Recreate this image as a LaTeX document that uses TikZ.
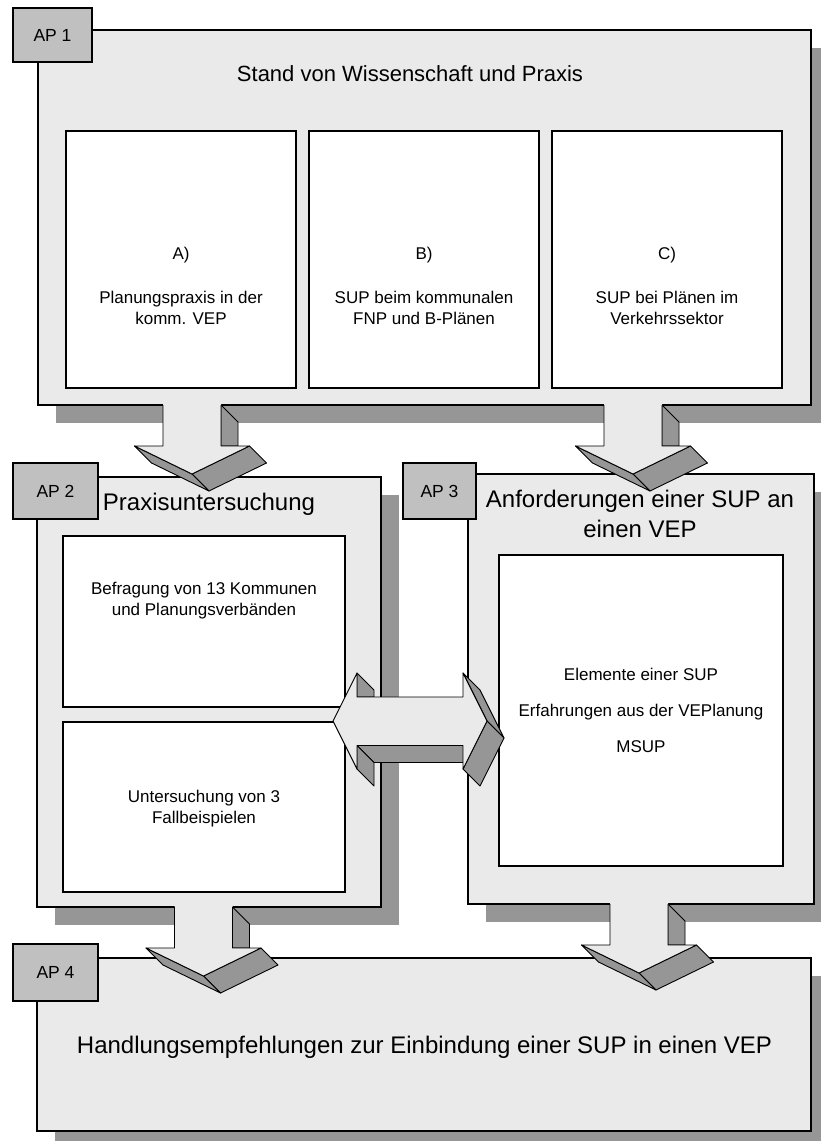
\documentclass[tikz,border=0pt]{standalone}
\usepackage{fontspec}
\setmainfont{Liberation Sans}
\definecolor{panelgray}{HTML}{EAEAEA}
\definecolor{tabgray}{HTML}{C0C0C0}
\definecolor{depthgray}{HTML}{969696}

% panel with its drop shadow: name, x1, y1, x2, y2
\newcommand\shadedpanel[5]{%
  \fill[depthgray] ({(#2)+18},{(#3)+18}) rectangle ({(#4)+18},{(#5)+18});
  \node[panel, minimum width={(#4)-(#2)}, minimum height={(#5)-(#3)}]
    (#1) at ({((#2)+(#4))/2},{((#3)+(#5))/2}) {};}
% plain box: name, x1, y1, x2, y2, style, text
\newcommand\boxat[7]{%
  \node[#6, minimum width={(#4)-(#2)}, minimum height={(#5)-(#3)}]
    (#1) at ({((#2)+(#4))/2},{((#3)+(#5))/2}) {#7};}

\tikzset{
  panel/.style={draw=black, fill=panelgray, line width=1.1pt, inner sep=0pt},
  inbox/.style={draw=black, fill=white, line width=1.1pt, inner sep=0pt},
  tabbox/.style={draw=black, fill=tabgray, line width=1.1pt, inner sep=0pt,
    font=\fontsize{17.5}{20}\selectfont},
  side/.style={draw=black, fill=depthgray, line width=0.9pt, line join=round},
  face/.style={fill=panelgray},
  edge/.style={draw=black, line width=0.9pt, line join=round},
  heading/.style={anchor=base, font=\fontsize{24}{28}\selectfont},
  body/.style={anchor=base, font=\fontsize{17}{20}\selectfont},
  % 3D block arrow pointing down, origin at the top centre of the shaft
  pics/downarrow/.style={code={
    \filldraw[side] (29,0) -- (46,17) -- (46,41) -- (29,41) -- cycle;
    \filldraw[side] (57.5,41) -- (74.5,58) -- (17,86) -- (0,69) -- cycle;
    \filldraw[side] (-57.5,41) -- (-40.5,58) -- (17,86) -- (0,69) -- cycle;
    \fill[face] (-29,-3) -- (-29,41) -- (-57.5,41) -- (0,69) -- (57.5,41)
      -- (29,41) -- (29,-3) -- cycle;
    \draw[edge] (-29,0) -- (-29,41) -- (-57.5,41) -- (0,69) -- (57.5,41)
      -- (29,41) -- (29,0);
  }},
  % 3D double-headed block arrow, origin at its centre
  pics/twinarrow/.style={code={
    \filldraw[side] (-53,24.5) -- (-36,41.5) -- (70,41.5) -- (53,24.5) -- cycle;
    \filldraw[side] (-53,-48) -- (-36,-31) -- (-36,-24) -- (-53,-24) -- cycle;
    \filldraw[side] (-53,24.5) -- (-36,41.5) -- (-36,65) -- (-53,48) -- cycle;
    \filldraw[side] (53,-48) -- (70,-31) -- (94,17) -- (77,0) -- cycle;
    \filldraw[side] (77,0) -- (94,17) -- (70,65) -- (53,48) -- cycle;
    \filldraw[face, edge] (-77,0) -- (-53,-48) -- (-53,-24) -- (53,-24)
      -- (53,-48) -- (77,0) -- (53,48) -- (53,24.5) -- (-53,24.5)
      -- (-53,48) -- cycle;
  }},
}

\begin{document}
\begin{tikzpicture}[x=1pt, y=-1pt]
\useasboundingbox (0,0) rectangle (821,1141);
\clip (0,0) rectangle (821,1141);
\fill[white] (0,0) rectangle (821,1141);

% ---- AP 1 ----
\shadedpanel{ap1}{38}{30}{811}{405}
\node[anchor=base, font=\fontsize{22}{26}\selectfont] (ap1title) at (410,81)
  {Stand von Wissenschaft und Praxis};
\boxat{boxA}{66}{131}{296}{388}{inbox}{}
\boxat{boxB}{309}{131}{539}{388}{inbox}{}
\boxat{boxC}{552}{131}{782}{388}{inbox}{}
\node[body] (a0) at (181,259) {A)};
\node[body] (a1) at (181,303) {Planungspraxis in der};
\node[body] (a2) at (181,324) {komm. VEP};
\node[body] (b0) at (424,259) {B)};
\node[body] (b1) at (424,303) {SUP beim kommunalen};
\node[body] (b2) at (424,324) {FNP und B-Plänen};
\node[body] (c0) at (667,259) {C)};
\node[body] (c1) at (667,303) {SUP bei Plänen im};
\node[body] (c2) at (667,324) {Verkehrssektor};
\boxat{tab1}{13}{8}{92}{62}{tabbox}{AP 1}

% ---- AP 2 and AP 3 ----
\shadedpanel{ap2}{37}{477}{381}{907}
\shadedpanel{ap3}{468}{474}{814}{904}

\pic at (192,405) {downarrow};
\pic at (633,405) {downarrow};

\node[heading] (ap2title) at (209,510) {Praxisuntersuchung};
\boxat{boxD}{63}{536}{345}{707}{inbox}{}
\boxat{boxE}{63}{722}{345}{892}{inbox}{}
\node[body] (d1) at (204,594) {Befragung von 13 Kommunen};
\node[body] (d2) at (204,615) {und Planungsverbänden};
\node[body] (e1) at (204,802) {Untersuchung von 3};
\node[body] (e2) at (204,823) {Fallbeispielen};
\boxat{tab2}{13}{463}{98}{519}{tabbox}{AP 2}

\node[heading] (ap3title1) at (640,507) {Anforderungen einer SUP an};
\node[heading] (ap3title2) at (640,537) {einen VEP};
\boxat{boxF}{499}{555}{783}{866}{inbox}{}
\node[body] (f1) at (641,680) {Elemente einer SUP};
\node[body] (f2) at (641,716) {Erfahrungen aus der VEPlanung};
\node[body] (f3) at (641,752) {MSUP};
\boxat{tab3}{403}{463}{476}{519}{tabbox}{AP 3}

\pic at (410,721) {twinarrow};

% ---- AP 4 ----
\shadedpanel{ap4}{37}{958}{811}{1131}
\pic at (203.5,907) {downarrow};
\pic at (639,904) {downarrow};
\node[heading] (ap4title) at (424.5,1053)
  {Handlungsempfehlungen zur Einbindung einer SUP in einen VEP};
\boxat{tab4}{13}{944}{98}{1001}{tabbox}{AP 4}
\end{tikzpicture}
\end{document}
